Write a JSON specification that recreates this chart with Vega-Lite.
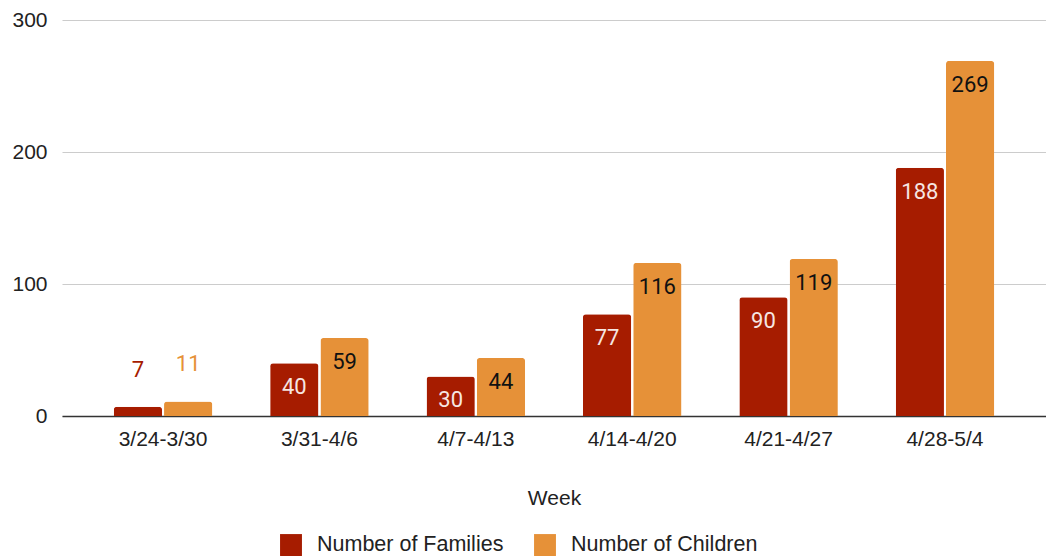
{
  "$schema": "https://vega.github.io/schema/vega-lite/v6.json",
  "width": 984,
  "height": 396,
  "autosize": "none",
  "padding": {"left": 62, "top": 20, "right": 0, "bottom": 142},
  "background": "white",
  "config": {
    "view": {"stroke": null},
    "font": "Liberation Sans"
  },
  "data": {
    "values": [
      {"week": "3/24-3/30", "series": "Number of Families", "value": 7},
      {"week": "3/24-3/30", "series": "Number of Children", "value": 11},
      {"week": "3/31-4/6", "series": "Number of Families", "value": 40},
      {"week": "3/31-4/6", "series": "Number of Children", "value": 59},
      {"week": "4/7-4/13", "series": "Number of Families", "value": 30},
      {"week": "4/7-4/13", "series": "Number of Children", "value": 44},
      {"week": "4/14-4/20", "series": "Number of Families", "value": 77},
      {"week": "4/14-4/20", "series": "Number of Children", "value": 116},
      {"week": "4/21-4/27", "series": "Number of Families", "value": 90},
      {"week": "4/21-4/27", "series": "Number of Children", "value": 119},
      {"week": "4/28-5/4", "series": "Number of Families", "value": 188},
      {"week": "4/28-5/4", "series": "Number of Children", "value": 269}
    ]
  },
  "encoding": {
    "x": {
      "field": "week",
      "type": "nominal",
      "sort": null,
      "scale": {"paddingInner": 0.37, "paddingOuter": 0.331},
      "axis": {
        "title": "Week",
        "titleFontWeight": "normal",
        "titleFontSize": 21,
        "titleColor": "#222",
        "titlePadding": 38,
        "labelAngle": 0,
        "labelFontSize": 21,
        "labelColor": "#222",
        "labelPadding": 12,
        "ticks": false,
        "domainColor": "#333",
        "domainWidth": 1.5
      }
    },
    "xOffset": {
      "field": "series",
      "type": "nominal",
      "sort": ["Number of Families", "Number of Children"],
      "scale": {"paddingInner": 0.04}
    },
    "y": {
      "field": "value",
      "type": "quantitative",
      "scale": {"domain": [0, 300], "nice": false},
      "axis": {
        "title": null,
        "values": [0, 100, 200, 300],
        "domain": false,
        "ticks": false,
        "labelFontSize": 21,
        "labelColor": "#222",
        "labelPadding": 15,
        "gridColor": "#cccccc",
        "gridWidth": 1.2
      }
    }
  },
  "layer": [
    {
      "mark": {"type": "bar", "cornerRadiusTopLeft": 3, "cornerRadiusTopRight": 3},
      "encoding": {
        "color": {
          "field": "series",
          "type": "nominal",
          "scale": {
            "domain": ["Number of Families", "Number of Children"],
            "range": ["#a61c00", "#e69138"]
          },
          "legend": {
            "title": null,
            "orient": "none",
            "direction": "horizontal",
            "legendX": 218,
            "legendY": 514,
            "symbolType": "square",
            "symbolSize": 480,
            "symbolStrokeWidth": 0,
            "labelFontSize": 21.5,
            "labelColor": "#222",
            "labelOffset": 15,
            "labelLimit": 0,
            "columnPadding": 30
          }
        }
      }
    },
    {
      "transform": [{"filter": "datum.value >= 20"}],
      "mark": {"type": "text", "baseline": "middle", "dy": 24, "fontSize": 22, "font": "Roboto"},
      "encoding": {
        "text": {"field": "value", "type": "quantitative"},
        "color": {
          "condition": {"test": "datum.series === 'Number of Families'", "value": "#f6e6e2"},
          "value": "#111111"
        }
      }
    },
    {
      "transform": [{"filter": "datum.value < 20"}],
      "mark": {"type": "text", "baseline": "middle", "dy": -37, "fontSize": 22, "font": "Roboto"},
      "encoding": {
        "text": {"field": "value", "type": "quantitative"},
        "color": {
          "condition": {"test": "datum.series === 'Number of Families'", "value": "#a61c00"},
          "value": "#e69138"
        }
      }
    }
  ]
}
